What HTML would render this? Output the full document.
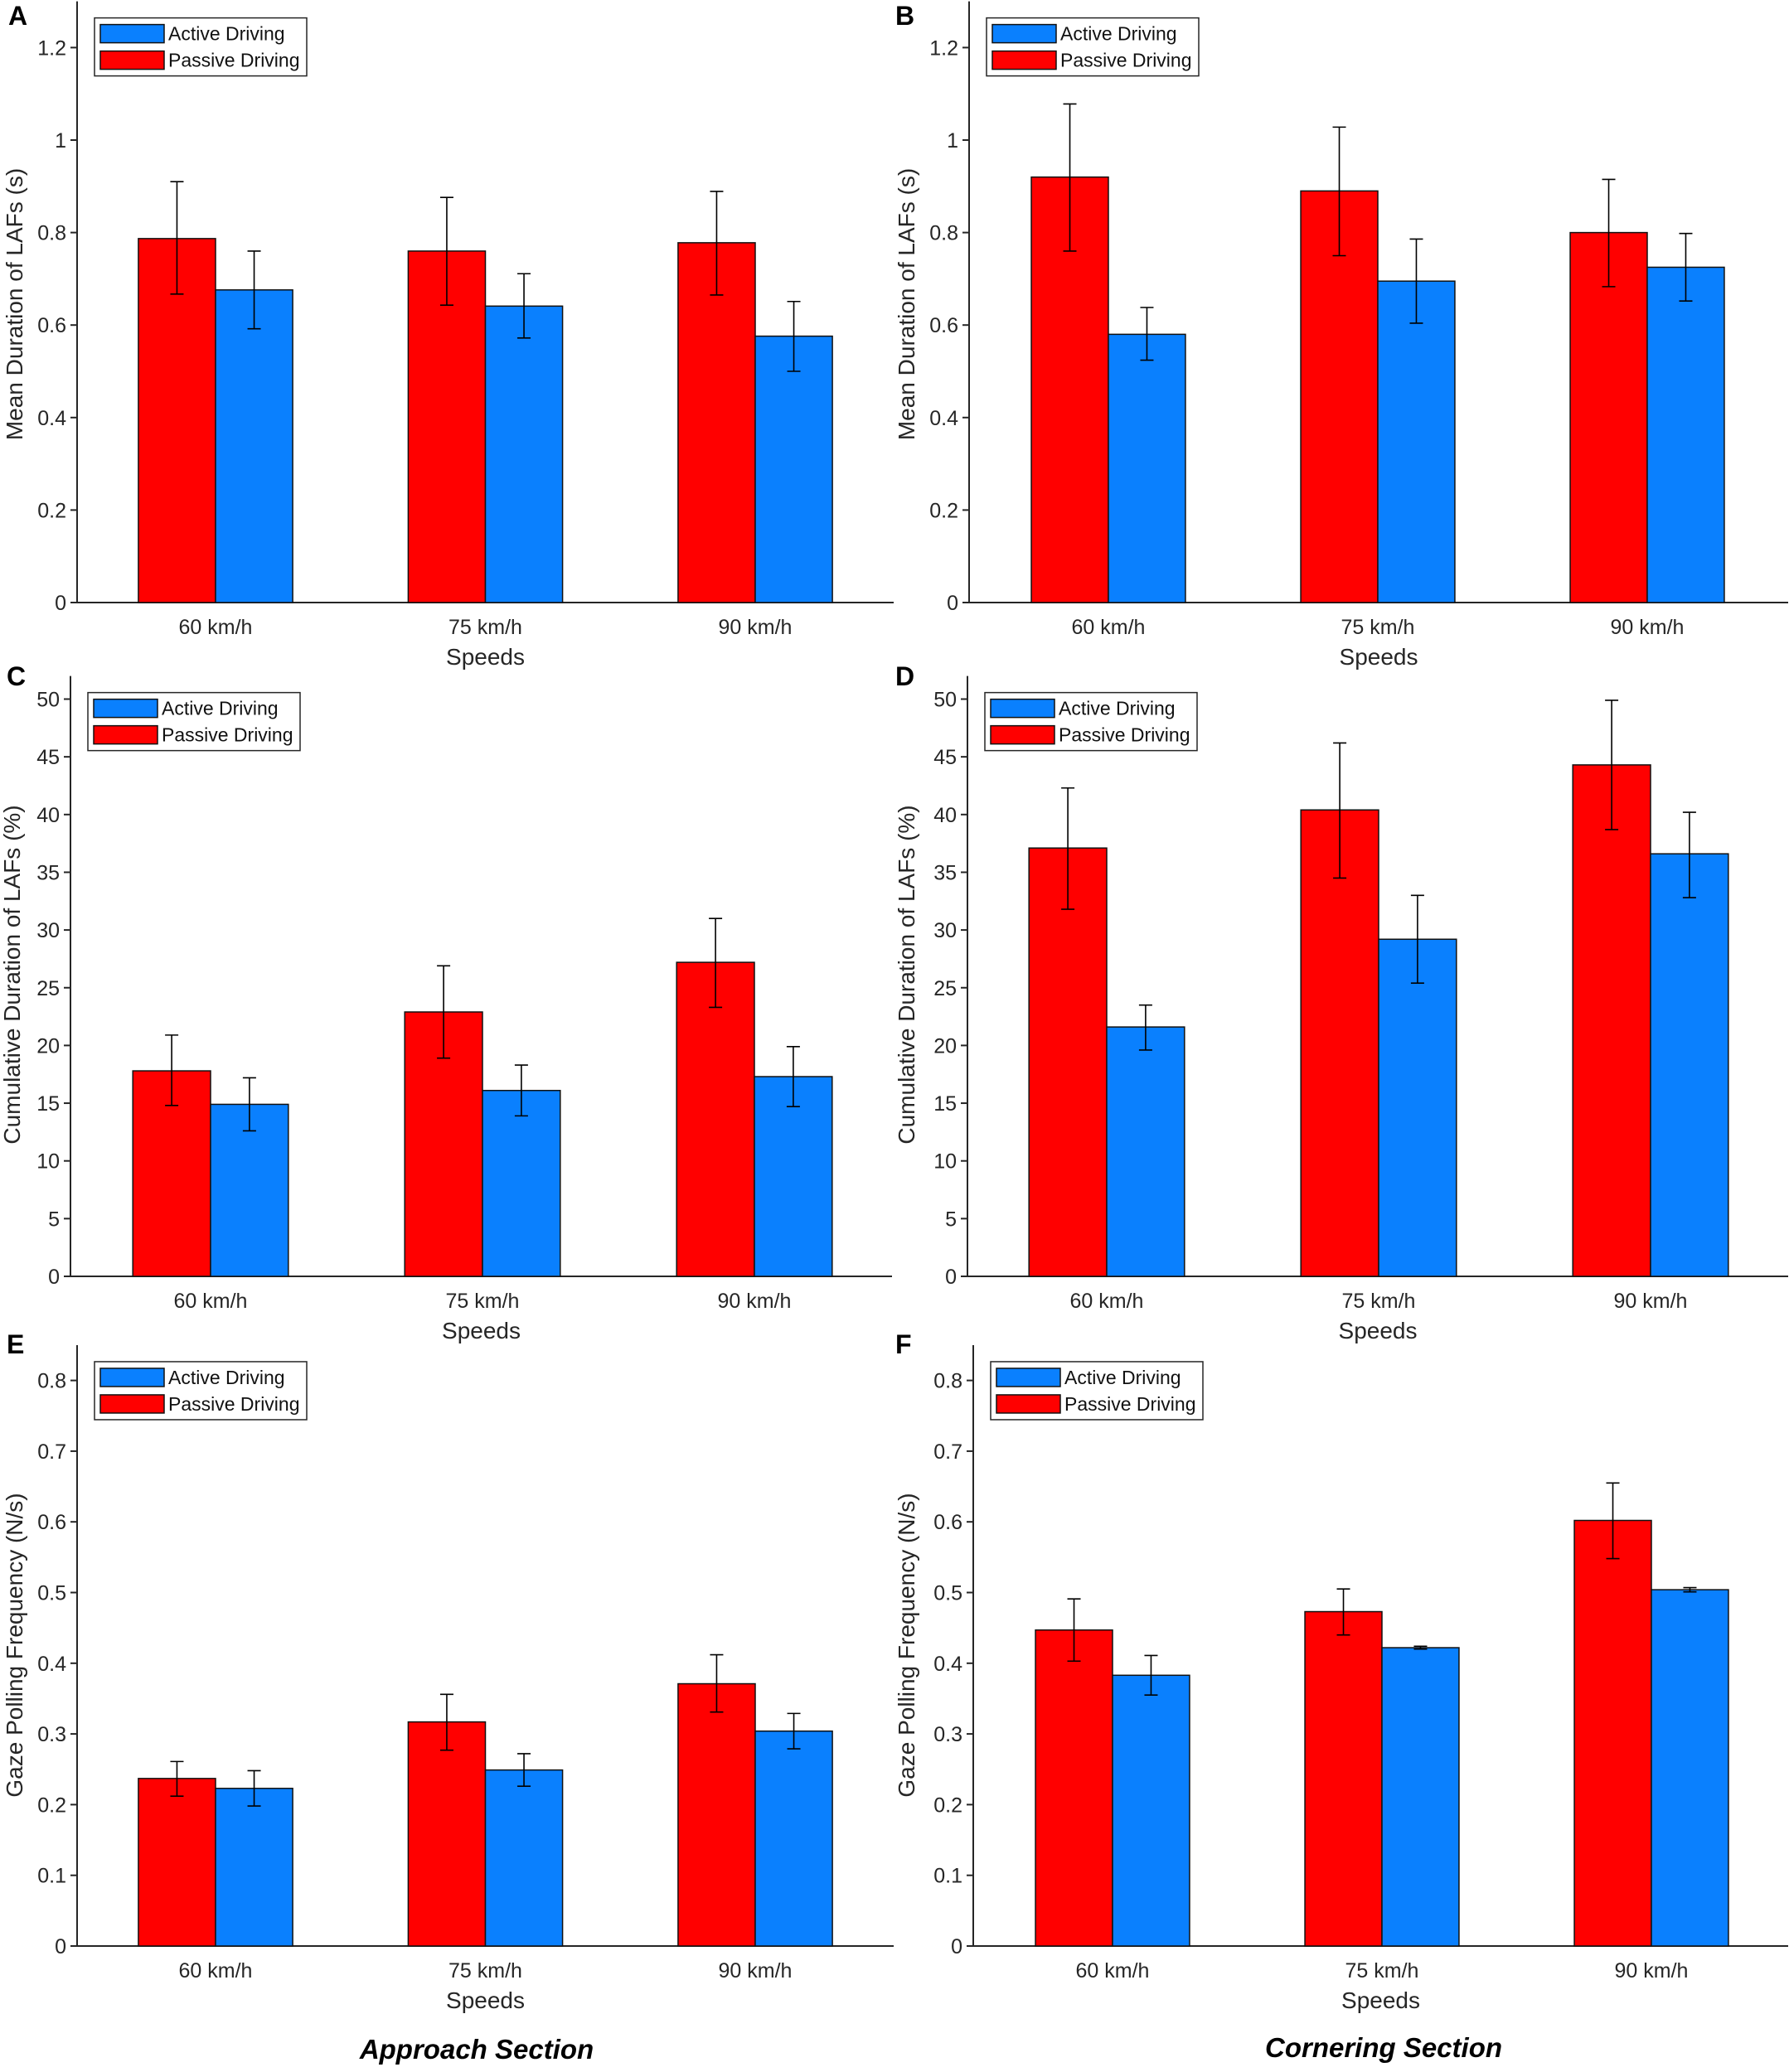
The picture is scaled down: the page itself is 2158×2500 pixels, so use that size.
<!DOCTYPE html>
<html><head><meta charset="utf-8">
<style>
html,body{margin:0;padding:0;background:#fff;}
svg{display:block;font-family:"Liberation Sans",Arial,sans-serif;}
</style></head>
<body>
<svg id="fig" width="2158" height="2500" viewBox="0 0 2158 2500" xmlns="http://www.w3.org/2000/svg">
<text x="10" y="30" font-size="32" font-weight="bold">A</text>
<text x="1080" y="30" font-size="32" font-weight="bold">B</text>
<text x="8" y="827" font-size="32" font-weight="bold">C</text>
<text x="1080" y="827" font-size="32" font-weight="bold">D</text>
<text x="8" y="1633" font-size="32" font-weight="bold">E</text>
<text x="1080" y="1633" font-size="32" font-weight="bold">F</text>
<text x="575" y="2484" font-size="33" font-weight="bold" font-style="italic" text-anchor="middle">Approach Section</text>
<text x="1669" y="2482" font-size="33" font-weight="bold" font-style="italic" text-anchor="middle">Cornering Section</text>
</svg>
<script>
const categories = ["60 km/h", "75 km/h", "90 km/h"];
const seriesNames = ["Active Driving", "Passive Driving"];

const aPassive = [0.787, 0.760, 0.778];
const aPassiveLo = [0.667, 0.643, 0.665];
const aPassiveHi = [0.910, 0.876, 0.889];
const aActive = [0.676, 0.641, 0.576];
const aActiveLo = [0.592, 0.572, 0.500];
const aActiveHi = [0.760, 0.711, 0.651];

const bPassive = [0.920, 0.890, 0.800];
const bPassiveLo = [0.760, 0.750, 0.683];
const bPassiveHi = [1.078, 1.028, 0.915];
const bActive = [0.580, 0.695, 0.725];
const bActiveLo = [0.524, 0.604, 0.652];
const bActiveHi = [0.638, 0.786, 0.798];

const cPassive = [17.8, 22.9, 27.2];
const cPassiveLo = [14.8, 18.9, 23.3];
const cPassiveHi = [20.9, 26.9, 31.0];
const cActive = [14.9, 16.1, 17.3];
const cActiveLo = [12.6, 13.9, 14.7];
const cActiveHi = [17.2, 18.3, 19.9];

const dPassive = [37.1, 40.4, 44.3];
const dPassiveLo = [31.8, 34.5, 38.7];
const dPassiveHi = [42.3, 46.2, 49.9];
const dActive = [21.6, 29.2, 36.6];
const dActiveLo = [19.6, 25.4, 32.8];
const dActiveHi = [23.5, 33.0, 40.2];

const ePassive = [0.237, 0.317, 0.371];
const ePassiveLo = [0.212, 0.277, 0.331];
const ePassiveHi = [0.261, 0.356, 0.412];
const eActive = [0.223, 0.249, 0.304];
const eActiveLo = [0.198, 0.226, 0.279];
const eActiveHi = [0.248, 0.272, 0.329];

const fPassive = [0.447, 0.473, 0.602];
const fPassiveLo = [0.403, 0.440, 0.548];
const fPassiveHi = [0.491, 0.505, 0.655];
const fActive = [0.383, 0.422, 0.504];
const fActiveLo = [0.355, 0.420, 0.501];
const fActiveHi = [0.411, 0.424, 0.507];

const ticksMean = [0, 0.2, 0.4, 0.6, 0.8, 1, 1.2];
const ticksCum = [0, 5, 10, 15, 20, 25, 30, 35, 40, 45, 50];
const ticksGaze = [0, 0.1, 0.2, 0.3, 0.4, 0.5, 0.6, 0.7, 0.8];
const titleMean = "Mean Duration of LAFs (s)";
const titleCum = "Cumulative Duration of LAFs (%)";
const titleGaze = "Gaze Polling Frequency (N/s)";

const NS = "http://www.w3.org/2000/svg";
const svg = document.getElementById("fig");
function mk(tag, attrs, parent) {
  const e = document.createElementNS(NS, tag);
  for (const k in attrs) e.setAttribute(k, attrs[k]);
  (parent || svg).appendChild(e);
  return e;
}

function panel(id, geo, ymax, ticks, title, pas, pasLo, pasHi, act, actLo, actHi) {
  const g = mk("g", {});
  
  
  const left = geo.left, right = geo.right, zero = geo.zero, ppu = geo.ppu;
  const top = zero - ymax * ppu;
  const y = v => zero - v * ppu;
  const xs = geo.xppu;
  const x = c => geo.c1 + (c - 1) * xs;
  const bw = 0.286 * xs;

  const ax = mk("path", {d: `M${left},${top} L${left},${zero} L${right},${zero}`, fill: "none", stroke: "#262626", "stroke-width": 2}, g);
  
  
  ticks.forEach(t => {
    const tk = mk("line", {x1: left - 8, x2: left, y1: y(t), y2: y(t), stroke: "#262626", "stroke-width": 2}, g);
    
    
    const tl = mk("text", {x: left - 13, y: y(t) + 9, "font-size": 25, "text-anchor": "end", fill: "#262626"}, g);
    tl.textContent = String(t);
    
    
  });
  categories.forEach((c, i) => {
    const tl = mk("text", {x: x(i + 1), y: zero + 38, "font-size": 25, "text-anchor": "middle", fill: "#262626"}, g);
    tl.textContent = c;
    
    
  });
  const xt = mk("text", {x: (left + right) / 2, y: zero + 75, "font-size": 28, "text-anchor": "middle", fill: "#262626"}, g);
  xt.textContent = "Speeds";
  
  
  const yt = mk("text", {x: 0, y: 0, "font-size": 28, "text-anchor": "middle", fill: "#262626",
    transform: `translate(${geo.titleX},${geo.titleY}) rotate(-90)`}, g);
  yt.textContent = title;
  
  

  categories.forEach((c, i) => {
    const cx = x(i + 1);
    const rb = mk("rect", {x: cx - bw, y: y(pas[i]), width: bw, height: zero - y(pas[i]), fill: "#ff0000", stroke: "#111", "stroke-width": 1.5}, g);
    
    
    const bb = mk("rect", {x: cx, y: y(act[i]), width: bw, height: zero - y(act[i]), fill: "#0a80fe", stroke: "#111", "stroke-width": 1.5}, g);
    
    
    [[cx - bw / 2, pasLo[i], pasHi[i], 'passive'], [cx + bw / 2, actLo[i], actHi[i], 'active']].forEach(e => {
      const ex = e[0], y1 = y(e[1]), y2 = y(e[2]);
      const eb = mk("path", {d: `M${ex},${y1} L${ex},${y2} M${ex - 8},${y1} L${ex + 8},${y1} M${ex - 8},${y2} L${ex + 8},${y2}`, fill: "none", stroke: "#000", "stroke-width": 1.6}, g);
      
      
    });
  });

  const lx = left + 21, ly = top + 20;
  const lg = mk("g", {}, g);
  
  
  mk("rect", {x: lx, y: ly, width: 256, height: 70, fill: "#fff", stroke: "#262626", "stroke-width": 1.5}, lg);
  const colors = ["#0a80fe", "#ff0000"];
  seriesNames.forEach((s, i) => {
    const ry = ly + 8 + i * 32;
    const sw = mk("rect", {x: lx + 7, y: ry, width: 77, height: 22, fill: colors[i], stroke: "#111", "stroke-width": 1.5}, lg);
    
    
    const lt = mk("text", {x: lx + 89, y: ry + 19, "font-size": 23, fill: "#111"}, lg);
    lt.textContent = s;
    
    
  });
}

panel("a", {left: 93, right: 1078, zero: 727, ppu: 558, c1: 260, xppu: 325.5, titleX: 27, titleY: 367}, 1.3, ticksMean, titleMean, aPassive, aPassiveLo, aPassiveHi, aActive, aActiveLo, aActiveHi);
panel("b", {left: 1169, right: 2157, zero: 727, ppu: 558, c1: 1337, xppu: 325, titleX: 1103, titleY: 367}, 1.3, ticksMean, titleMean, bPassive, bPassiveLo, bPassiveHi, bActive, bActiveLo, bActiveHi);
panel("c", {left: 85, right: 1076, zero: 1540, ppu: 13.93, c1: 254, xppu: 328, titleX: 24, titleY: 1176}, 52, ticksCum, titleCum, cPassive, cPassiveLo, cPassiveHi, cActive, cActiveLo, cActiveHi);
panel("d", {left: 1167, right: 2157, zero: 1540, ppu: 13.93, c1: 1335, xppu: 328, titleX: 1103, titleY: 1176}, 52, ticksCum, titleCum, dPassive, dPassiveLo, dPassiveHi, dActive, dActiveLo, dActiveHi);
panel("e", {left: 93, right: 1078, zero: 2348, ppu: 853, c1: 260, xppu: 325.5, titleX: 27, titleY: 1985}, 0.85, ticksGaze, titleGaze, ePassive, ePassiveLo, ePassiveHi, eActive, eActiveLo, eActiveHi);
panel("f", {left: 1174, right: 2157, zero: 2348, ppu: 853, c1: 1342, xppu: 325, titleX: 1103, titleY: 1985}, 0.85, ticksGaze, titleGaze, fPassive, fPassiveLo, fPassiveHi, fActive, fActiveLo, fActiveHi);
</script>
</body></html>
